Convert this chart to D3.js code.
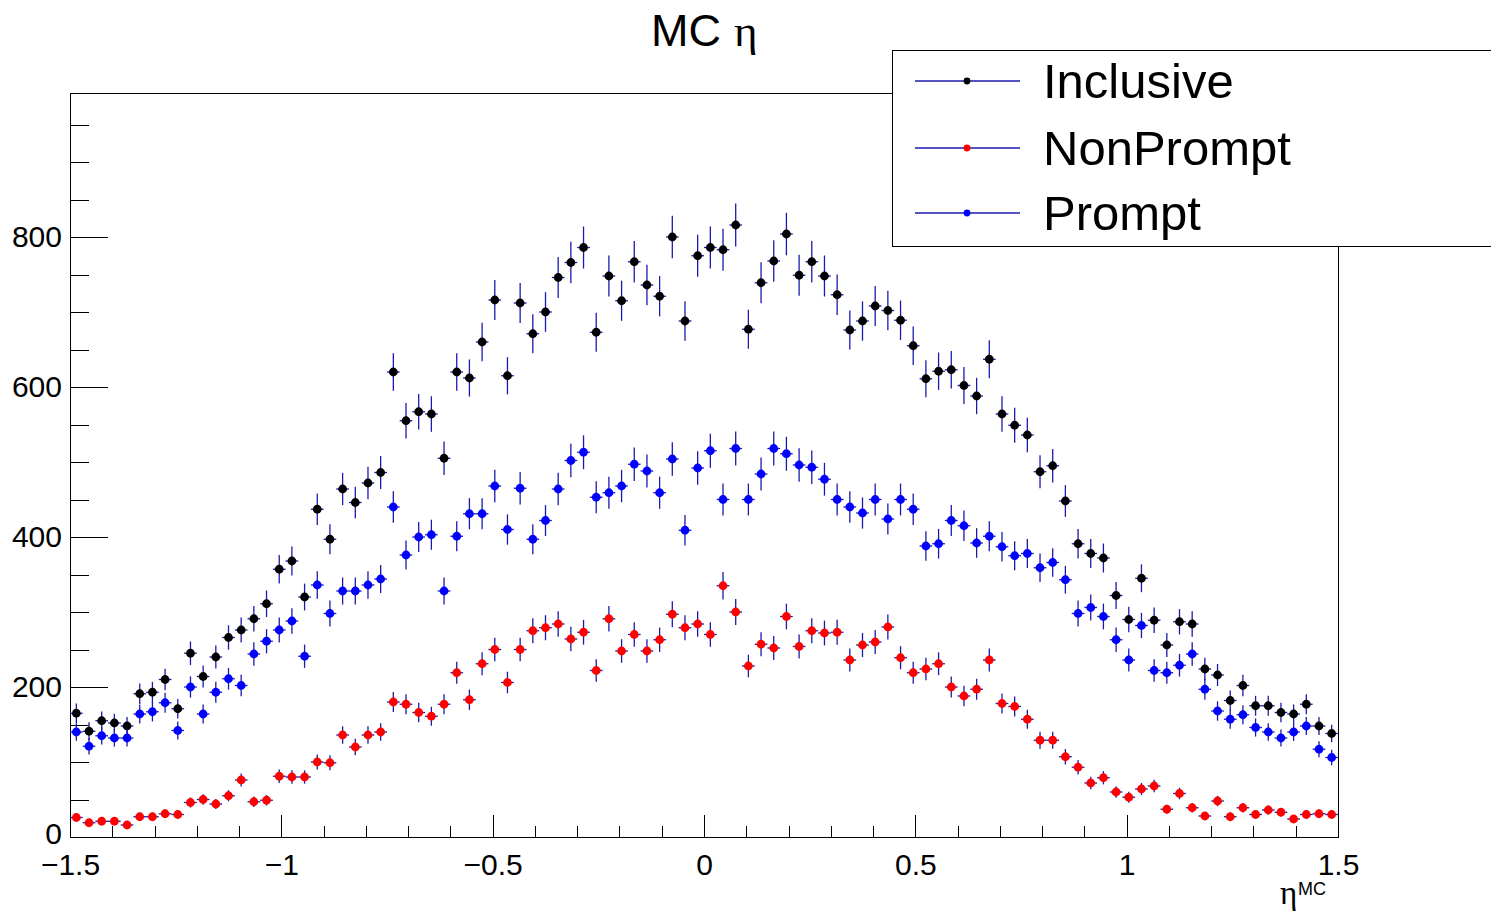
<!DOCTYPE html>
<html><head><meta charset="utf-8">
<script src="https://cdn.jsdelivr.net/npm/d3@7"></script>
<style>body{margin:0;background:#fff} svg{display:block}</style>
</head><body>
<svg id="c" width="1491" height="912"></svg>
<script>
// ---- data (100 bins of eta from -1.5 to 1.5) ----
const etaMin = -1.5, etaMax = 1.5, nBins = 100;
const inclusive = [165,141,155,152,148,191,193,210,171,245,
  214,240,266,276,291,311,357,368,320,437,
  397,464,446,472,486,620,555,567,564,505,
  620,612,660,716,615,712,671,700,746,766,
  786,673,748,715,767,736,721,800,688,775,
  786,783,816,677,739,768,804,749,767,748,
  723,676,688,708,702,689,655,611,621,623,
  602,588,637,564,549,536,487,495,448,391,
  378,372,322,290,345,289,256,287,284,224,
  216,182,202,175,175,166,164,177,148,138];
const nonPrompt = [26,19,21,21,16,27,27,31,30,46,
  50,44,55,76,47,49,81,80,80,100,
  99,136,120,136,140,180,177,166,161,177,
  219,183,231,250,206,250,275,279,284,264,
  273,222,291,248,270,248,263,297,279,284,
  270,335,300,228,257,252,294,254,275,272,
  273,236,256,260,280,239,219,224,231,200,
  188,197,236,178,174,157,129,129,107,93,
  72,79,60,53,64,68,37,58,39,28,
  48,27,39,30,36,33,24,30,31,30];
const prompt = [140,121,135,132,132,164,167,179,142,200,
  164,193,211,202,244,261,276,288,241,336,
  298,328,328,336,344,440,376,400,403,328,
  401,431,431,468,410,465,397,422,464,502,
  513,453,459,468,497,488,459,504,409,492,
  515,450,518,450,484,518,511,496,493,477,
  450,440,432,450,424,450,437,388,391,422,
  415,392,401,387,375,378,359,366,343,298,
  306,294,263,236,282,222,219,229,244,197,
  168,157,163,146,140,132,140,148,117,106];
const seriesNames = ["Inclusive", "NonPrompt", "Prompt"];
const seriesColors = ["#000000", "#ff0000", "#0000ff"];
const xMajorTicks = [-1.5, -1, -0.5, 0, 0.5, 1, 1.5];
const xMinorTicks = d3.range(-15, 16).map(k => k / 10);
const yMajorTicks = [0, 200, 400, 600, 800];
const yMinorTicks = d3.range(0, 1000, 50);
const yMax = 992;

// ---- layout ----
const L = 70, R = 1338, T = 93, B = 837;
const svg = d3.select("#c");
svg.append("rect").attr("width", 1491).attr("height", 912).attr("fill", "#fff");

const x = d3.scaleLinear().domain([etaMin, etaMax]).range([L, R]);
const y = d3.scaleLinear().domain([0, yMax]).range([B, T]);
const FONT = "'Liberation Sans', Arial, Helvetica, sans-serif";
const SERIF = "'Liberation Serif', 'Times New Roman', serif";

const fmt = d => (d < 0 ? "\u2212" : "") + Math.abs(d);

// x axis
const gxMinor = svg.append("g").attr("transform", `translate(0,${B})`)
  .call(d3.axisBottom(x).tickValues(xMinorTicks).tickSize(-11).tickFormat(""));
const gxMajor = svg.append("g").attr("transform", `translate(0,${B})`)
  .call(d3.axisBottom(x).tickValues(xMajorTicks).tickSize(-22).tickPadding(17).tickFormat(fmt));
// y axis
const gyMinor = svg.append("g").attr("transform", `translate(${L},0)`)
  .call(d3.axisLeft(y).tickValues(yMinorTicks).tickSize(-19).tickFormat(""));
const gyMajor = svg.append("g").attr("transform", `translate(${L},0)`)
  .call(d3.axisLeft(y).tickValues(yMajorTicks).tickSize(-38).tickPadding(8).tickFormat(d => d));
[gxMinor, gxMajor, gyMinor, gyMajor].forEach(g => {
  g.select(".domain").remove();
  g.selectAll("line").attr("stroke", "#000").attr("shape-rendering", "crispEdges");
  g.selectAll("text").attr("font-family", FONT).attr("font-size", 30).attr("fill", "#000");
});
// lift the "0" label slightly so it does not touch the x labels
gyMajor.selectAll(".tick").filter(d => d === 0).select("text").attr("dy", "0.22em");

// frame
svg.append("rect").attr("x", L + 0.5).attr("y", T + 0.5)
  .attr("width", R - L).attr("height", B - T)
  .attr("fill", "none").attr("stroke", "#000").attr("stroke-width", 1);

// ---- series ----
const binW = (etaMax - etaMin) / nBins;
const centers = d3.range(nBins).map(i => etaMin + (i + 0.5) * binW);
const errColor = "#1a1ab0";
const allSeries = [inclusive, nonPrompt, prompt];
allSeries.forEach((vals, si) => {
  const g = svg.append("g");
  const pts = vals.map((v, i) => ({c: centers[i], v: v, e: Math.sqrt(v)}));
  g.selectAll("line.v").data(pts).join("line")
    .attr("x1", d => x(d.c)).attr("x2", d => x(d.c))
    .attr("y1", d => y(d.v - d.e)).attr("y2", d => y(d.v + d.e))
    .attr("stroke", errColor).attr("stroke-width", 1.3);
  g.selectAll("line.h").data(pts).join("line")
    .attr("x1", d => x(d.c - binW / 2)).attr("x2", d => x(d.c + binW / 2))
    .attr("y1", d => y(d.v)).attr("y2", d => y(d.v))
    .attr("stroke", errColor).attr("stroke-width", 1.3);
  g.selectAll("circle").data(pts).join("circle")
    .attr("cx", d => x(d.c)).attr("cy", d => y(d.v)).attr("r", 4.4)
    .attr("fill", seriesColors[si]);
});

// ---- title ----
svg.append("text").attr("x", 651).attr("y", 46)
  .attr("font-family", FONT).attr("font-size", 45).text("MC");
svg.append("text").attr("x", 734).attr("y", 46)
  .attr("font-family", SERIF).attr("font-size", 45).text("\u03b7");

// ---- x-axis title ----
svg.append("text").attr("x", 1280).attr("y", 904)
  .attr("font-family", SERIF).attr("font-size", 33).text("\u03b7");
svg.append("text").attr("x", 1298).attr("y", 895)
  .attr("font-family", FONT).attr("font-size", 18).text("MC");

// ---- legend ----
const lg = svg.append("g");
lg.append("rect").attr("x", 892.5).attr("y", 50.5).attr("width", 640).attr("height", 196)
  .attr("fill", "#fff").attr("stroke", "#000").attr("stroke-width", 1);
const legendRows = [81, 148, 213];
seriesNames.forEach((name, i) => {
  const cy = legendRows[i];
  lg.append("line").attr("x1", 915).attr("x2", 1020).attr("y1", cy).attr("y2", cy)
    .attr("stroke", errColor).attr("stroke-width", 1.3);
  lg.append("circle").attr("cx", 967).attr("cy", cy).attr("r", 3.4).attr("fill", seriesColors[i]);
  lg.append("text").attr("x", 1043).attr("y", cy + 17)
    .attr("font-family", FONT).attr("font-size", 49).attr("fill", "#000").text(name);
});
</script>
</body></html>
